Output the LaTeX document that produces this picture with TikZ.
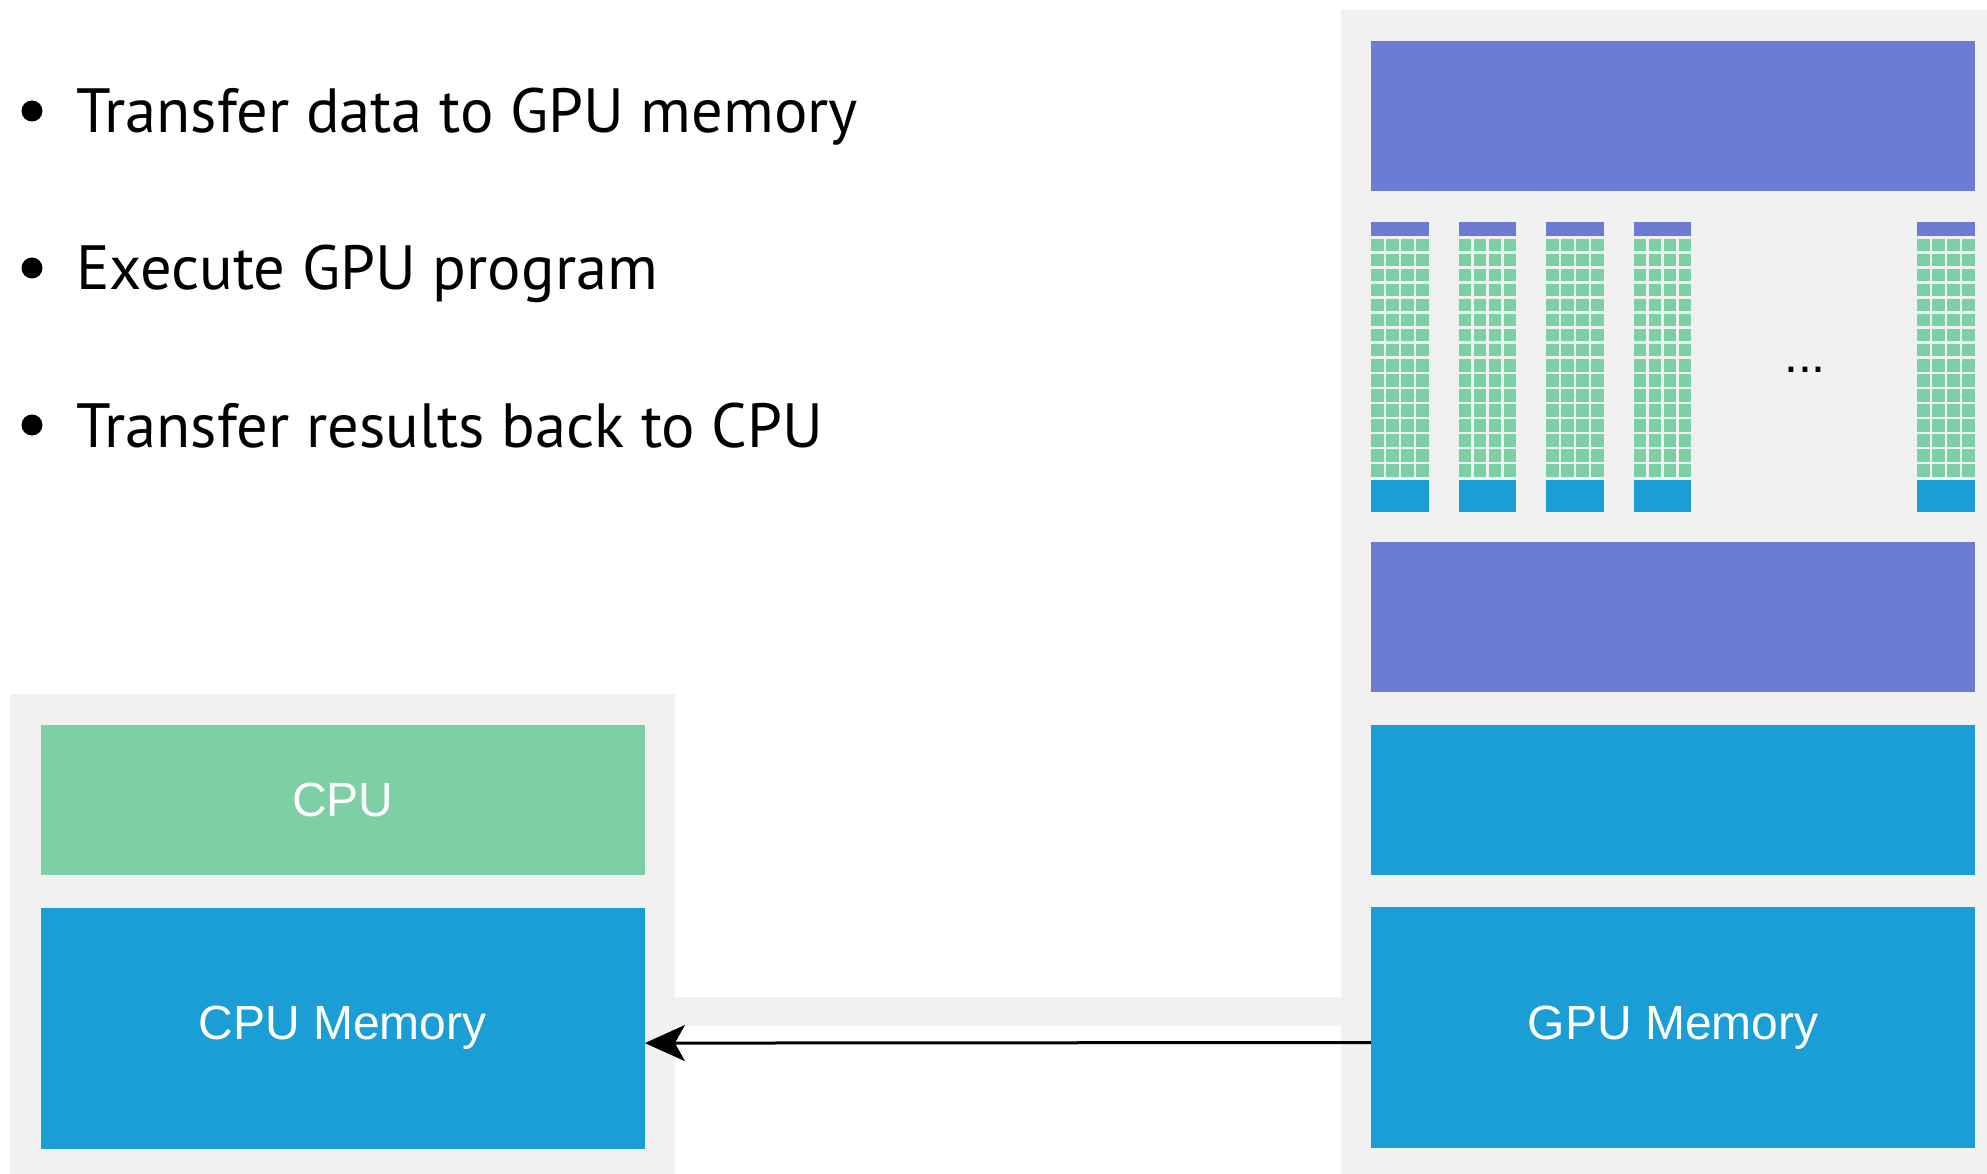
\documentclass[tikz,border=0pt]{standalone}
\usepackage{fontspec}
\setmainfont{PT Sans}
\newfontfamily\boxfont{Liberation Sans}
\usepackage{tikz}
\usetikzlibrary{positioning, arrows.meta}
\definecolor{gpupurple}{HTML}{6C7CD4}
\definecolor{memblue}{HTML}{1B9DD5}
\definecolor{coregreen}{HTML}{7DCFA4}
\definecolor{padgray}{HTML}{F1F1F1}
\tikzstyle{unit} = [rectangle, minimum width=604pt, minimum height=150pt, inner sep=0pt, text=white, font=\boxfont\fontsize{48}{58}\selectfont]
\tikzstyle{memory} = [unit, minimum height=241pt, fill=memblue]
\tikzstyle{sched} = [unit, fill=gpupurple]
\tikzstyle{core} = [unit, fill=coregreen]
\tikzstyle{cache} = [unit, fill=memblue]
\tikzstyle{point} = [anchor=base west, inner sep=0pt, font=\fontsize{62.5}{75}\selectfont]
\tikzstyle{bullet} = [circle, fill=black, minimum size=21pt, inner sep=0pt]
\tikzstyle{arrow} = [line width=3pt, -{Stealth[length=40pt, width=36pt, inset=10pt]}]

\begin{document}
\begin{tikzpicture}[x=1pt, y=-1pt, node distance=32pt]
    \useasboundingbox (0,0) rectangle (1987,1174);
    % gray backing
    \fill[padgray] (1341,10) rectangle (1987,1174);
    \fill[padgray] (10,694) rectangle (675,1174);
    \fill[padgray] (675,997) rectangle (1341,1026);
    % GPU
    \node (sched1) [sched, anchor=north west] at (1371,40.5) {};
    \node (sched2) [sched, anchor=north west] at (1371,542) {};
    \node (l2) [cache, below=of sched2] {};
    \node (gpumem) [memory, below=of l2] {GPU Memory};
    \foreach \x in {1371, 1458.5, 1546, 1633.5, 1917} {
        \fill[gpupurple] (\x,222) rectangle ++(57.5,14);
        \foreach \r in {0,...,15}
            \foreach \c in {0,...,3}
                \fill[coregreen] (\x+\c*15,239+\r*15) rectangle ++(12.5,12.5);
        \fill[memblue] (\x,480) rectangle ++(57.5,32);
    }
    \node (more) [anchor=base, font=\boxfont\fontsize{50}{60}\selectfont] at (1805,372) {...};
    % CPU
    \node (cpu) [core, anchor=north west] at (40.5,725) {CPU};
    \node (cpumem) [memory, below=of cpu] {CPU Memory};
    % steps
    \node (item1) [point] at (76,133) {Transfer data to GPU memory};
    \node (item2) [point] at (76,290) {Execute GPU program};
    \node (item3) [point] at (76,447) {Transfer results back to CPU};
    \node (bul1) [bullet] at (32,111) {};
    \node (bul2) [bullet] at (32,268) {};
    \node (bul3) [bullet] at (32,425) {};
    \draw [arrow] ([yshift=-15pt]gpumem.west) -- ([yshift=-15pt]cpumem.east);
\end{tikzpicture}
\end{document}
